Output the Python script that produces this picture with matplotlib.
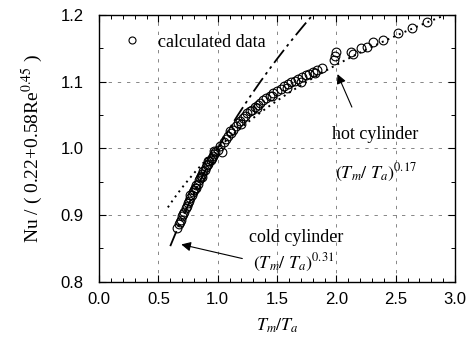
import matplotlib
matplotlib.use("Agg")
import matplotlib.pyplot as plt
import numpy as np
from matplotlib.ticker import MultipleLocator

plt.rcParams['mathtext.fontset'] = 'stix'

# calculated data
tm_ta = [0.66, 0.67, 0.68, 0.69, 0.70, 0.71, 0.72, 0.73, 0.74, 0.75,
         0.76, 0.77, 0.77, 0.78, 0.79, 0.80, 0.81, 0.82, 0.82, 0.83,
         0.84, 0.85, 0.86, 0.87, 0.87, 0.88, 0.89, 0.90, 0.91, 0.92,
         0.92, 0.93, 0.94, 0.95, 0.96, 0.97, 0.97, 0.98, 1.00, 1.02,
         1.04, 1.05, 1.07, 1.09, 1.10, 1.11, 1.13, 1.15, 1.17, 1.19,
         1.20, 1.21, 1.23, 1.25, 1.27, 1.29, 1.31, 1.33, 1.34, 1.36,
         1.38, 1.41, 1.44, 1.46, 1.47, 1.50, 1.53, 1.56, 1.58, 1.59,
         1.62, 1.65, 1.68, 1.70, 1.71, 1.74, 1.77, 1.80, 1.82, 1.84,
         1.88, 1.98, 1.99, 2.00, 2.12, 2.14, 2.21, 2.26, 2.31, 2.39,
         2.52, 2.64, 2.76]
nu_ratio = [0.880, 0.887, 0.889, 0.893, 0.898, 0.902, 0.905, 0.911, 0.914, 0.918,
            0.921, 0.925, 0.930, 0.930, 0.934, 0.938, 0.940, 0.945, 0.940, 0.947,
            0.952, 0.955, 0.958, 0.962, 0.957, 0.966, 0.968, 0.972, 0.975, 0.977,
            0.981, 0.981, 0.983, 0.986, 0.989, 0.991, 0.996, 0.995, 0.998, 1.003,
            0.995, 1.010, 1.014, 1.018, 1.026, 1.023, 1.028, 1.033, 1.038, 1.041,
            1.036, 1.045, 1.048, 1.053, 1.056, 1.058, 1.062, 1.060, 1.065, 1.068,
            1.072, 1.075, 1.079, 1.078, 1.083, 1.086, 1.089, 1.093, 1.090, 1.096,
            1.099, 1.101, 1.104, 1.100, 1.107, 1.110, 1.112, 1.115, 1.113, 1.118,
            1.120, 1.133, 1.139, 1.145, 1.145, 1.142, 1.151, 1.152, 1.160, 1.163,
            1.173, 1.181, 1.190]

hot_exp = 0.17
cold_exp = 0.31

fig = plt.figure(figsize=(4.74, 3.45), dpi=100)
ax = fig.add_axes([0.209, 0.183, 0.751, 0.774])

# correlation curves
xh = np.linspace(0.58, 3.0, 200)
ax.plot(xh, xh**hot_exp, color='black', lw=1.4, ls=(0, (1, 2.2)))
xc = np.linspace(0.6, 1.85, 200)
ax.plot(xc, xc**cold_exp, color='black', lw=1.3, ls=(0, (9, 2.5, 1.5, 2.5, 1.5, 2.5)))

ax.plot(tm_ta, nu_ratio, 'o', mfc='none', mec='black', ms=6.3, mew=0.8,
        label='calculated data')

ax.set_xlim(0, 3.0)
ax.set_ylim(0.8, 1.2)
ax.xaxis.set_major_locator(MultipleLocator(0.5))
ax.xaxis.set_minor_locator(MultipleLocator(0.1))
ax.yaxis.set_major_locator(MultipleLocator(0.1))
ax.yaxis.set_minor_locator(MultipleLocator(0.05))
ax.xaxis.set_major_formatter(plt.FormatStrFormatter('%.1f'))
ax.yaxis.set_major_formatter(plt.FormatStrFormatter('%.1f'))
ax.tick_params(which='both', direction='in', top=True, right=True)
ax.tick_params(which='major', length=5, width=0.8, labelsize=12)
ax.tick_params(axis='y', which='major', pad=11)
ax.tick_params(axis='x', which='major', pad=7)
ax.tick_params(which='minor', length=3, width=0.7)
for lab in ax.get_xticklabels() + ax.get_yticklabels():
    lab.set_family('Liberation Sans')
for s in ax.spines.values():
    s.set_linewidth(1.0)

ax.grid(True, which='major', color='0.45', lw=0.6, ls=(0, (4, 7)))

ax.set_xlabel(r'$T_m/T_a$', fontsize=13, labelpad=7)
ax.set_ylabel(r'Nu / ( 0.22+0.58Re$^{0.45}$ )', fontsize=14,
              family='Liberation Serif', labelpad=11)

leg = ax.legend(loc='upper left', frameon=False, bbox_to_anchor=(-0.005, 0.99),
                handletextpad=0.45, markerscale=0.8,
                prop={'family': 'Liberation Serif', 'size': 13})

ax.annotate('', xy=(2.0, 1.115), xytext=(2.14, 1.058),
            arrowprops=dict(arrowstyle='-|>', color='black', lw=0.8, mutation_scale=14))
ax.text(1.96, 1.021, 'hot cylinder', fontsize=13, family='Liberation Serif', va='center')
ax.text(1.99, 0.963, r'$(T_m/\ T_a)^{0.17}$', fontsize=13, va='center')

ax.annotate('', xy=(0.67, 0.857), xytext=(1.23, 0.834),
            arrowprops=dict(arrowstyle='-|>', color='black', lw=0.8, mutation_scale=14))
ax.text(1.26, 0.867, 'cold cylinder', fontsize=13, family='Liberation Serif', va='center')
ax.text(1.30, 0.829, r'$(T_m/\ T_a)^{0.31}$', fontsize=13, va='center')

fig.savefig('out.png', dpi=100)
